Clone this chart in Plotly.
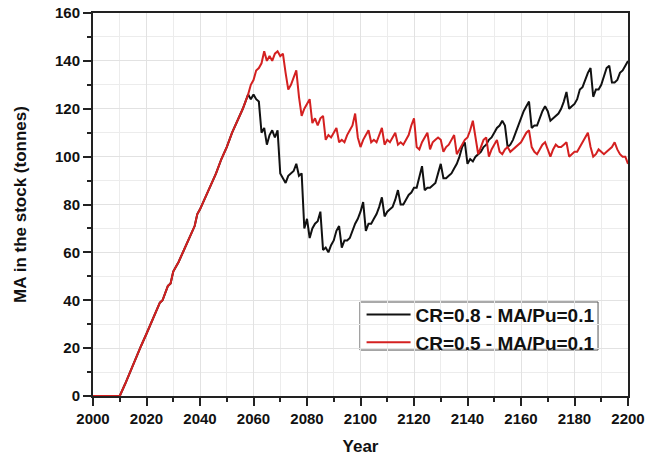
import plotly.graph_objects as go

# Shared build-up phase (both scenarios identical until ~2058)
rise_years = [2000, 2010, 2012, 2014, 2016, 2018, 2020, 2022, 2024, 2025, 2026, 2028, 2029,
              2030, 2031, 2032, 2034, 2036, 2037, 2038, 2039, 2040, 2042, 2044, 2046, 2048,
              2050, 2052, 2054, 2056, 2058]
rise_values = [0, 0, 5, 10.5, 16, 21, 26, 31.5, 37, 39, 40, 46, 47,
               52, 54, 56, 61, 66, 69, 71, 76, 78, 83, 88, 93, 99,
               104, 110, 115, 120, 126]

# CR=0.5 - MA/Pu=0.1 (red) after 2058
red_years = list(range(2059, 2201))
red_values = [130, 132, 136, 137, 139, 144, 140, 142, 140, 143, 144, 142, 143,   # 2059-2071
              135, 128, 130, 133, 136, 125, 117, 120, 122, 124, 114, 116, 113,   # 2072-2084
              116, 117, 107, 109, 108, 110, 112, 106, 107, 106, 109, 111, 113,   # 2085-2097
              118, 108, 104, 107, 109, 111, 106, 107, 106, 109, 112, 105, 107,   # 2098-2110
              106, 108, 110, 105, 106, 105, 107, 109, 113, 116, 104, 103, 106,   # 2111-2123
              108, 110, 103, 106, 107, 108, 107, 102, 104, 105, 107, 109, 101,   # 2124-2136
              103, 105, 107, 108, 111, 115, 107, 101, 104, 107, 108, 100, 103,   # 2137-2149
              105, 107, 102, 101, 103, 104, 102, 103, 104, 105, 106, 108, 110,   # 2150-2162
              111, 104, 102, 101, 103, 105, 106, 103, 100, 103, 105, 104, 104,   # 2163-2175
              105, 106, 100, 101, 102, 102, 104, 106, 108, 110, 104, 100, 101,   # 2176-2188
              103, 102, 101, 102, 103, 104, 106, 103, 101, 100, 100, 97]         # 2189-2200

# CR=0.8 - MA/Pu=0.1 (black) after 2058
black_years = list(range(2059, 2201))
black_values = [124, 126, 124, 123, 110, 112, 105, 109, 111, 108, 111, 93, 91,   # 2059-2071
                89, 92, 93, 94, 97, 92, 93, 70, 74, 66, 70, 72, 73,             # 2072-2084
                77, 61, 62, 60, 63, 65, 69, 71, 62, 65, 65, 66, 69,             # 2085-2097
                72, 74, 77, 81, 69, 72, 72, 74, 76, 79, 83, 75, 77,             # 2098-2110
                78, 79, 82, 86, 80, 80, 82, 84, 85, 87, 87, 91, 96,             # 2111-2123
                86, 87, 87, 88, 89, 93, 97, 91, 91, 92, 93, 95, 97,             # 2124-2136
                100, 104, 106, 97, 99, 98, 100, 101, 102, 104, 105, 107, 108,   # 2137-2149
                110, 112, 113, 115, 113, 104, 105, 107, 110, 113, 116, 119, 121,  # 2150-2162
                123, 112, 113, 113, 116, 119, 121, 119, 115, 116, 117, 118, 120,  # 2163-2175
                123, 127, 120, 121, 122, 124, 128, 129, 132, 135, 137, 125, 128,  # 2176-2188
                128, 130, 134, 137, 138, 131, 131, 132, 135, 136, 138, 140]       # 2189-2200

x_ticks = [2000, 2020, 2040, 2060, 2080, 2100, 2120, 2140, 2160, 2180, 2200]
y_ticks = [0, 20, 40, 60, 80, 100, 120, 140, 160]

FONT = "Arial, Liberation Sans, Helvetica, sans-serif"

fig = go.Figure()
fig.add_trace(go.Scatter(x=rise_years + black_years, y=rise_values + black_values,
                         mode="lines", name="CR=0.8 - MA/Pu=0.1",
                         line=dict(color="#111111", width=2)))
fig.add_trace(go.Scatter(x=rise_years + red_years, y=rise_values + red_values,
                         mode="lines", name="CR=0.5 - MA/Pu=0.1",
                         line=dict(color="#d42020", width=2)))

axis_common = dict(
    showline=True, linecolor="#222222", linewidth=2, mirror=True,
    ticks="outside", ticklen=8, tickwidth=2, tickcolor="#222222",
    showgrid=True, gridcolor="#e2e2e2", gridwidth=1,
    zeroline=False, automargin=False, ticklabeloverflow="allow",
    tickfont=dict(family=FONT, size=15, color="#111111", weight="bold"),
)

fig.update_layout(
    width=646, height=456,
    paper_bgcolor="white", plot_bgcolor="white",
    margin=dict(l=93, r=18, t=13, b=60),
    font=dict(family=FONT, color="#111111"),
    xaxis=dict(**axis_common, range=[2000, 2200], tickvals=x_ticks,
               minor=dict(dtick=10, tick0=2000, ticks="outside", ticklen=4, tickwidth=1.5,
                          tickcolor="#222222", showgrid=True, gridcolor="#ececec"),
               title=dict(text="Year", font=dict(family=FONT, size=17, weight="bold"),
                          standoff=14)),
    yaxis=dict(**axis_common, range=[0, 160], tickvals=y_ticks,
               minor=dict(dtick=10, tick0=0, ticks="outside", ticklen=4, tickwidth=1.5,
                          tickcolor="#222222", showgrid=True, gridcolor="#ececec"),
               title=dict(text="MA in the stock (tonnes)",
                          font=dict(family=FONT, size=17, weight="bold"), standoff=24)),
    legend=dict(x=0.502, y=0.262, xanchor="left", yanchor="top",
                bgcolor="rgba(0,0,0,0)", borderwidth=0,
                font=dict(family=FONT, size=19, weight="bold", color="#111111"),
                itemwidth=44, tracegroupgap=0),
    shapes=[dict(type="rect", xref="paper", yref="paper",
                 x0=0.499, x1=0.944, y0=0.120, y1=0.2454,
                 line=dict(color="#555555", width=1), fillcolor="white", layer="below")],
    showlegend=True,
)

# Remove the default 8px page margin so the figure fills the window exactly.
fig.write_html("out.html",
               config={"displayModeBar": False},
               post_script="document.body.style.margin='0';document.body.style.overflow='hidden';")
